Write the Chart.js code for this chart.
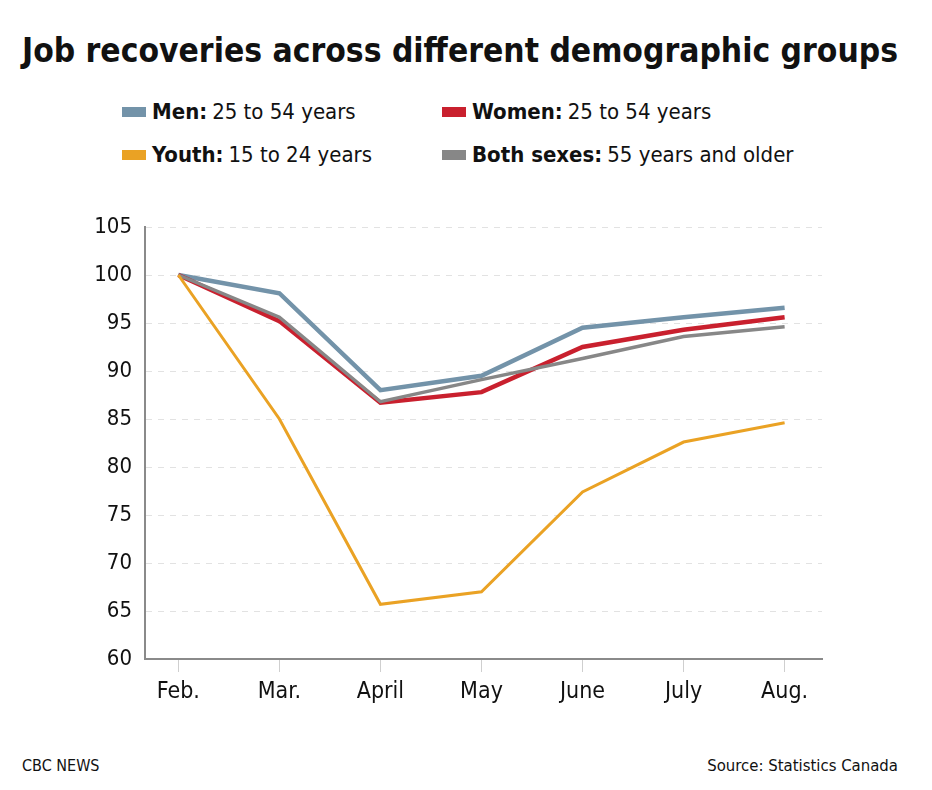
<!DOCTYPE html>
<html>
<head>
<meta charset="utf-8">
<script src="https://cdn.jsdelivr.net/npm/chart.js@4"></script>
<style>
  html, body { margin:0; padding:0; background:#fff; }
  body { width:932px; height:790px; position:relative; overflow:hidden;
         font-family:"DejaVu Sans Condensed","Roboto",sans-serif; color:#111; }
  #title { position:absolute; left:22px; top:30px; font-size:34px; line-height:1; font-weight:bold; white-space:nowrap; }
  .leg { position:absolute; font-size:22px; white-space:nowrap; display:flex; align-items:center; }
  .leg .sw { display:inline-block; width:24px; height:10px; margin-right:6px; }
  .leg b { font-weight:bold; margin-right:5px; }
  #foot1 { position:absolute; left:22px; top:756px; font-size:16px; }
  #foot2 { position:absolute; right:34px; top:756px; font-size:16.6px; }
  #wrap { position:absolute; left:0; top:190px; width:932px; height:540px; }
</style>
</head>
<body>
<div id="title">Job recoveries across different demographic groups</div>
<div id="legend"></div>
<div id="wrap"><canvas id="c"></canvas></div>
<div id="foot1">CBC NEWS</div>
<div id="foot2">Source: Statistics Canada</div>
<script>
const months = ["Feb.", "Mar.", "April", "May", "June", "July", "Aug."];
const men   = [100, 98.1, 88.0, 89.5, 94.5, 95.6, 96.6];
const women = [100, 95.2, 86.7, 87.8, 92.5, 94.3, 95.6];
const youth = [100, 85.0, 65.7, 67.0, 77.4, 82.6, 84.6];
const older = [100, 95.6, 86.8, 89.1, 91.3, 93.6, 94.6];
const yTicks = [60, 65, 70, 75, 80, 85, 90, 95, 100, 105];

const series = [
  { bold: "Men:", rest: "25 to 54 years", color: "#7393a9", data: men, width: 4.5, x: 122, y: 99 },
  { bold: "Women:", rest: "25 to 54 years", color: "#c9202e", data: women, width: 4.5, x: 442, y: 99 },
  { bold: "Youth:", rest: "15 to 24 years", color: "#eaa224", data: youth, width: 3, x: 122, y: 142 },
  { bold: "Both sexes:", rest: "55 years and older", color: "#878787", data: older, width: 3.5, x: 442, y: 142 }
];

// fit title to reference width
const t = document.getElementById('title');
const targetW = 876;
let fs = 34;
t.style.fontSize = fs + 'px';
fs = fs * targetW / t.getBoundingClientRect().width;
t.style.fontSize = fs.toFixed(2) + 'px';
t.style.top = (59 - fs * 0.76).toFixed(1) + 'px';

const legend = document.getElementById('legend');
series.forEach(s => {
  const d = document.createElement('div');
  d.className = 'leg';
  d.style.left = s.x + 'px';
  d.style.top = s.y + 'px';
  d.innerHTML = '<span class="sw" style="background:' + s.color + '"></span><b>' + s.bold + '</b><span>' + s.rest + '</span>';
  legend.appendChild(d);
});

const fontFam = '"DejaVu Sans Condensed",Roboto,sans-serif';

// draw order: youth, older, women, men on top
const order = [2, 3, 1, 0];
new Chart(document.getElementById('c'), {
  type: 'line',
  data: {
    datasets: order.map(i => ({
      label: series[i].bold + ' ' + series[i].rest,
      data: series[i].data.map((v, k) => ({ x: k, y: v })),
      borderColor: series[i].color,
      backgroundColor: series[i].color,
      borderWidth: series[i].width,
      pointRadius: 0,
      tension: 0,
      borderJoinStyle: 'miter'
    }))
  },
  options: {
    responsive: true,
    maintainAspectRatio: false,
    animation: false,
    layout: { padding: { top: 37, right: 110, bottom: 0, left: 0 } },
    plugins: { legend: { display: false }, tooltip: { enabled: false } },
    scales: {
      x: {
        type: 'linear',
        min: -0.33,
        max: 6.37,
        afterBuildTicks: sc => { sc.ticks = months.map((m, i) => ({ value: i })); },
        afterFit: sc => { sc.height = 71; },
        ticks: {
          callback: v => months[v],
          color: '#111',
          font: { family: fontFam, size: 23 },
          padding: 6,
          maxRotation: 0,
          autoSkip: false
        },
        grid: { drawOnChartArea: false, drawTicks: true, tickLength: 13, color: '#cfcfcf', lineWidth: 1 },
        border: { display: true, color: '#8a8a8a', width: 2 }
      },
      y: {
        min: 60,
        max: 105,
        afterBuildTicks: sc => { sc.ticks = yTicks.map(v => ({ value: v })); },
        afterFit: sc => { sc.width = 145; },
        ticks: {
          color: '#111',
          font: { family: fontFam, size: 22 },
          padding: 13
        },
        grid: {
          drawTicks: false,
          color: ctx => ctx.tick && ctx.tick.value === 60 ? 'rgba(0,0,0,0)' : '#e2e2e2',
          lineWidth: 1
        },
        border: { display: true, color: '#8a8a8a', width: 2, dash: [6, 6] }
      }
    }
  }
});
</script>
</body>
</html>
